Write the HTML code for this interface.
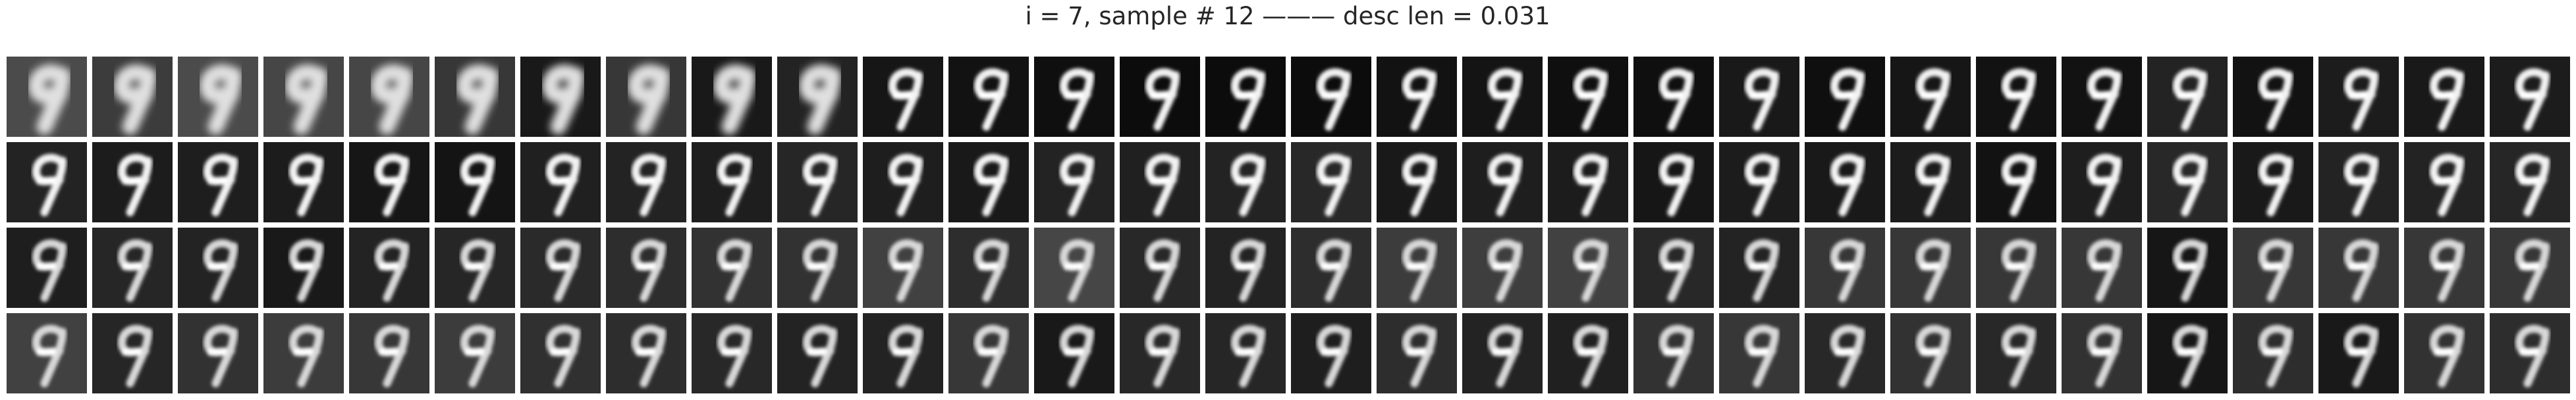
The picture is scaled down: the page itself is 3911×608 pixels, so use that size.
<!DOCTYPE html>
<html><head><meta charset="utf-8"><style>
html,body{margin:0;padding:0;background:#fff;}
svg{display:block;}
</style></head><body>
<svg id="fig" width="3911" height="608" viewBox="0 0 3911 608" xmlns="http://www.w3.org/2000/svg">
<defs>
<filter id="b1" x="-20%" y="-20%" width="140%" height="140%"><feGaussianBlur stdDeviation="0.6"/></filter>
<filter id="b2" x="-30%" y="-30%" width="160%" height="160%"><feGaussianBlur stdDeviation="1.4"/></filter>
</defs>
<text x="1955" y="37" text-anchor="middle" font-family="DejaVu Sans, Liberation Sans, sans-serif" font-size="37" fill="#262626">i = 7, sample # 12 ——— desc len = 0.031</text>
<g id="grid"></g>
</svg>
<script>
// background gray level of each tile, per row (30 columns)
const row1Bg = [75,60,75,70,70,55,25,55,25,35,22,18,15,12,12,12,18,20,15,15,25,15,22,18,18,35,18,28,25,28];
const row2Bg = [35,28,30,28,22,20,32,35,30,38,30,25,35,32,35,40,25,30,28,22,28,25,28,18,30,40,25,35,35,38];
const row3Bg = [30,38,35,25,35,38,42,45,50,50,65,45,70,40,35,45,60,62,65,40,35,55,55,55,55,22,55,55,55,55];
const row4Bg = [65,38,50,60,55,60,48,45,40,35,35,55,25,40,38,30,45,35,32,50,55,40,50,40,50,22,45,25,50,45];
// digit sharpness: 1 = blobby early reconstruction, 0 = clear
const row1Blob = [1,1,1,1,1,1,1,1,1,1,0,0,0,0,0,0,0,0,0,0,0,0,0,0,0,0,0,0,0,0];
const rows = [row1Bg,row2Bg,row3Bg,row4Bg];

const NS = 'http://www.w3.org/2000/svg';
const grid = document.getElementById('grid');
const X0 = 10, Y0 = 86, PITCH = 130, TILE = 122, S = TILE/28;
const loopD = 'M19,7 C17,4.5 11.5,5 10.5,9 C9.8,12 11.5,14 14,13.6 L18.5,13.2';
const stemD = 'M19.5,6.5 C19.5,10 18.2,13.5 16.5,17 L13.2,24.5';
const barD = 'M11.5,13.6 L16,13.4';

rows.forEach((bgs, r) => {
  bgs.forEach((g, c) => {
    const gEl = document.createElementNS(NS, 'g');
    
    
    gEl.setAttribute('transform', `translate(${X0 + c*PITCH},${Y0 + r*PITCH}) scale(${S})`);
    const rect = document.createElementNS(NS, 'rect');
    rect.setAttribute('width', 28); rect.setAttribute('height', 28);
    rect.setAttribute('fill', `rgb(${g},${g},${g})`);
    gEl.appendChild(rect);
    const blob = r === 0 && row1Blob[c] === 1;
    const dg = document.createElementNS(NS, 'g');
    dg.setAttribute('filter', blob ? 'url(#b2)' : 'url(#b1)');
    dg.setAttribute('fill', 'none');
    dg.setAttribute('stroke-linecap', 'round');
    const col = blob ? '#e0e0e0' : (r >= 2 ? '#d8d8d8' : '#f2f2f2');
    [loopD, stemD].forEach(d => {
      const p = document.createElementNS(NS, 'path');
      p.setAttribute('d', d);
      p.setAttribute('stroke', col);
      p.setAttribute('stroke-width', blob ? 5.5 : 2.8);
      dg.appendChild(p);
    });
    if (!blob) {
      const p = document.createElementNS(NS, 'path');
      p.setAttribute('d', barD);
      p.setAttribute('stroke', '#ffffff');
      p.setAttribute('stroke-width', 2.6);
      dg.appendChild(p);
    }
    gEl.appendChild(dg);
    grid.appendChild(gEl);
  });
});
</script>
</body></html>
